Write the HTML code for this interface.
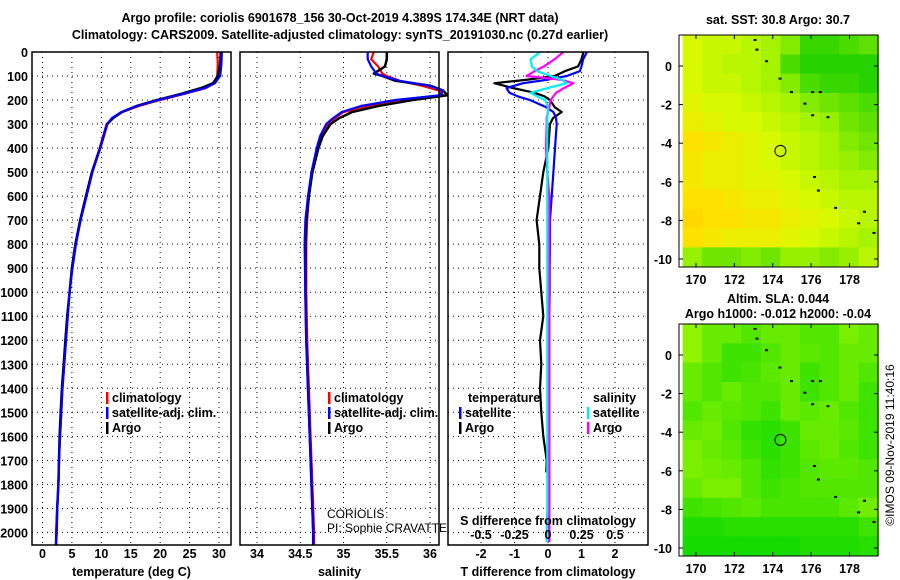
<!DOCTYPE html>
<html><head><meta charset="utf-8"><style>
body{margin:0;background:#fff}
svg{display:block;font-family:"Liberation Sans",sans-serif}
.b{font-weight:bold;font-size:12.5px}
.n{font-weight:normal;font-size:12px}
</style></head><body>
<svg id="s" width="900" height="580"></svg>
<script>
// ---- data ----
const depthT = [0,50,100,130,150,175,200,225,250,275,300,350,400,500,600,700,800,900,1000,1100,1200,1300,1400,1500,1600,1700,1800,1900,2000,2050];
const tempArgo = [30.3,30.2,29.8,29,27,23.5,19.5,16,13.5,12,11,10.4,9.8,8.4,7.4,6.4,5.6,5,4.6,4.2,3.9,3.6,3.3,3.1,2.9,2.8,2.7,2.5,2.4,2.3];
const tempClim = [29.7,29.8,29.7,29.2,27.8,24,20,16.4,13.6,12,10.9,10.3,9.7,8.4,7.4,6.4,5.6,5,4.6,4.3,4,3.7,3.4,3.2,3,2.8,2.7,2.5,2.3,2.3];
const tempSat = [30.5,30.4,30.2,29.3,27.6,23.8,19.6,16,13.4,11.8,11,10.4,9.8,8.5,7.5,6.5,5.7,5.1,4.6,4.3,4,3.7,3.4,3.2,3,2.8,2.7,2.5,2.4,2.3];
const depthS = [0,30,60,90,100,120,140,160,180,200,225,250,275,300,350,400,500,600,700,800,1000,1200,1400,1600,1800,2000,2050];
const salArgo = [35.5,35.5,35.48,35.35,35.45,35.6,36.0,36.15,36.2,35.8,35.4,35.1,34.95,34.85,34.76,34.71,34.64,34.6,34.57,34.56,34.56,34.57,34.59,34.61,34.63,34.65,34.65];
const salClim = [35.35,35.32,35.4,35.45,35.5,35.65,35.9,36.1,36.15,35.75,35.3,35.0,34.9,34.82,34.74,34.7,34.63,34.6,34.58,34.57,34.57,34.58,34.6,34.62,34.64,34.66,34.66];
const salSat = [35.28,35.28,35.32,35.38,35.45,35.65,35.98,36.15,36.12,35.6,35.2,34.98,34.88,34.8,34.73,34.69,34.63,34.59,34.56,34.55,34.56,34.57,34.59,34.61,34.63,34.65,34.65];
const depthD = [0,30,60,80,100,115,130,150,170,185,200,230,250,275,300,400,500,600,700,800,900,1000,1100,1200,1300,1400,1500,1600,1700,1750,1800,1900,2000,2040];
const dTArgo = [1.06,1.0,0.9,0.5,0.2,-0.6,-1.6,-1.05,-0.4,-0.1,0.06,0.2,0.41,0.15,0.06,0.01,-0.14,-0.24,-0.34,-0.26,-0.26,-0.2,-0.14,-0.24,-0.2,-0.24,-0.2,-0.14,-0.04,-0.05,null,null,null,null];
const dTSat = [1.16,1.05,1.0,0.95,0.56,0.0,-0.74,-1.24,-1.15,-0.9,-0.54,-0.05,0.16,0.24,0.26,0.21,0.16,0.11,0.06,0.06,0.05,0.05,0.04,0.04,0.04,0.04,0.04,0.04,0.04,0.04,0.04,0.04,0.04,0.04];
const dSArgo = [0.115,0.05,-0.03,-0.1,-0.16,0.09,0.19,0.12,0.06,0.04,0.02,0.01,0.0,-0.01,-0.01,-0.015,-0.005,0.01,0.01,0.01,0.01,0.01,0.01,0.01,0.01,0.01,0.01,0.01,0.01,0.01,0.01,0.01,0.01,0.01];
const dSSat = [-0.06,-0.13,-0.12,-0.08,0.02,0.1,0.14,0.0,-0.13,-0.08,-0.02,0.0,0.0,-0.005,-0.005,-0.005,-0.005,-0.005,-0.005,-0.005,-0.005,-0.005,-0.005,-0.005,-0.005,-0.005,-0.005,-0.005,-0.005,-0.005,-0.005,-0.005,-0.01,-0.01];
const depthTicks = [0,100,200,300,400,500,600,700,800,900,1000,1100,1200,1300,1400,1500,1600,1700,1800,1900,2000];
const tempTicks = [0,5,10,15,20,25,30];
const salTicks = [34,34.5,35,35.5,36];
const dTTicks = [-2,-1,0,1,2];
const dSTicks = [-0.5,-0.25,0,0.25,0.5];
const sstGrid = [
[.6,.55,.55,.5,.45,.35,.15,.15,.2,.25],
[.6,.55,.5,.5,.45,.2,.1,.1,.1,.1],
[.6,.55,.55,.5,.45,.35,.2,.15,.15,.1],
[.65,.6,.6,.55,.5,.45,.35,.3,.25,.2],
[.7,.65,.6,.6,.55,.5,.45,.4,.3,.25],
[.8,.75,.7,.65,.6,.55,.5,.45,.35,.3],
[.75,.7,.7,.65,.6,.55,.5,.45,.4,.35],
[.75,.7,.7,.65,.65,.6,.55,.5,.45,.45],
[.8,.8,.75,.7,.7,.65,.6,.55,.5,.5],
[.85,.8,.8,.75,.75,.7,.65,.6,.55,.5],
[.8,.75,.7,.7,.7,.65,.6,.55,.5,.45],
[.4,.3,.3,.35,.3,.4,.4,.35,.4,.5]];
const slaGrid = [
[.7,.5,.5,.4,.5,.5,.4,.4,.6,.5],
[.7,.5,.3,.3,.4,.5,.45,.4,.5,.5],
[.5,.4,.3,.35,.45,.5,.3,.4,.5,.4],
[.5,.4,.5,.4,.4,.5,.3,.4,.5,.3],
[.4,.5,.45,.4,.3,.5,.45,.5,.4,.3],
[.5,.55,.4,.25,.2,.3,.5,.5,.45,.3],
[.6,.5,.45,.3,.2,.3,.45,.5,.4,.3],
[.6,.55,.5,.4,.25,.3,.4,.45,.45,.4],
[.5,.6,.6,.4,.3,.35,.4,.4,.4,.4],
[.3,.35,.4,.45,.35,.35,.35,.35,.45,.55],
[.15,.15,.2,.2,.2,.2,.2,.2,.2,.3],
[.1,.1,.1,.1,.1,.1,.15,.15,.15,.2]];
const lonTicks = [170,172,174,176,178];
const latTicks = [0,-2,-4,-6,-8,-10];
const argoPos = [174.4,-4.4];

// ---- helpers ----
const S = document.getElementById('s');
const NS = 'http://www.w3.org/2000/svg';
function mk(tag, at, parent){const e=document.createElementNS(NS,tag);for(const k in at)e.setAttribute(k,at[k]);(parent||S).appendChild(e);return e;}
function txt(x,y,t,anchor,cls,extra){const e=mk('text',Object.assign({x:x,y:y,'text-anchor':anchor||'middle',class:cls||'b'},extra||{}));e.textContent=t;return e;}
const Y0=52, YB=545;
const yD = d => Y0 + d*0.2402;
function lin(d0,p0,d1,p1){return v=>p0+(v-d0)*(p1-p0)/(d1-d0);}

function panel(name,x0,x1,xs,ticks,fmt,xtitle){
  const g=mk('g',{});
  depthTicks.forEach(d=>{mk('line',{x1:x0,x2:x1,y1:yD(d),y2:yD(d),stroke:'#000','stroke-dasharray':'1,4','stroke-width':1},g);});
  ticks.forEach(t=>{const x=xs(t);mk('line',{x1:x,x2:x,y1:Y0,y2:YB,stroke:'#000','stroke-dasharray':'1,4','stroke-width':1},g);
    if(fmt){const l=txt(x,558,fmt(t));}});
  if(xtitle){const l=txt((x0+x1)/2,576,xtitle);}
  return g;
}
function line(g,xs,depths,vals,color,w,name){
  let d='';let pen=false;
  depths.forEach((dp,i)=>{const v=vals[i];if(v===null||v===undefined){pen=false;return;}d+=(pen?'L':'M')+xs(v).toFixed(1)+','+yD(dp).toFixed(1);pen=true;});
  const p=mk('path',{d:d,fill:'none',stroke:color,'stroke-width':w||2.2,'stroke-linejoin':'round'},g);
  
  
}
function frame(g,x0,x1){mk('rect',{x:x0,y:Y0,width:x1-x0,height:YB-Y0,fill:'none',stroke:'#000','stroke-width':1.5},g);}
function legend(x,y,items){items.forEach((it,i)=>{mk('rect',{x:x,y:y+i*15-10,width:2.5,height:12,fill:it[1]});
  const t=txt(x+6,y+i*15,it[0],'start');});}

// titles
let t=txt(340,22,'Argo profile: coriolis 6901678_156 30-Oct-2019 4.389S 174.34E (NRT data)','middle','b',{'font-size':'14'});

t=txt(340,39,'Climatology: CARS2009. Satellite-adjusted climatology: synTS_20191030.nc (0.27d earlier)','middle','b',{'font-size':'14'});

depthTicks.forEach(d=>{const l=txt(28,yD(d)+5,String(d),'end');});

// panel 1 temperature
const xT=lin(0,42.5,30,219);
let g=panel('temperature-panel',32,231,xT,tempTicks,String,'temperature (deg C)');
line(g,xT,depthT,tempClim,'#f00',2.2,'temp-climatology-line');
line(g,xT,depthT,tempArgo,'#000',2.5,'temp-argo-line');
line(g,xT,depthT,tempSat,'#00f',2.2,'temp-satellite-line');
frame(g,32,231);
legend(106,402,[['climatology','#f00'],['satellite-adj. clim.','#00f'],['Argo','#000']]);

// panel 2 salinity
const xS=lin(34,257,36,430);
g=panel('salinity-panel',240,439,xS,salTicks,String,'salinity');
line(g,xS,depthS,salClim,'#f00',2.2,'sal-climatology-line');
line(g,xS,depthS,salArgo,'#000',2.5,'sal-argo-line');
line(g,xS,depthS,salSat,'#00f',2.2,'sal-satellite-line');
frame(g,240,439);
legend(328,402,[['climatology','#f00'],['satellite-adj. clim.','#00f'],['Argo','#000']]);
t=txt(327,518,'CORIOLIS','start','n');

t=txt(327,532,'PI: Sophie CRAVATTE','start','n');


// panel 3 differences
const xDT=lin(0,548,1,581.5);
const xDS=lin(0,548,0.25,581.5);
g=panel('difference-panel',448,648,xDT,dTTicks,String,'T difference from climatology');
line(g,xDT,depthD,dTArgo,'#000',2.2,'tdiff-argo-line');
line(g,xDT,depthD,dTSat,'#00f',2.2,'tdiff-satellite-line');
line(g,xDS,depthD,dSArgo,'#f0f',2.2,'sdiff-argo-line');
line(g,xDS,depthD,dSSat,'#0ee',2.2,'sdiff-satellite-line');
frame(g,448,648);
txt(468,402,'temperature','start');
legend(459,417,[['satellite','#00f'],['Argo','#000']]);
txt(593,402,'salinity','start');
legend(587,417,[['satellite','#0ee'],['Argo','#f0f']]);
txt(548,525,'S difference from climatology');
dSTicks.forEach(v=>{const l=txt(xDS(v),539,String(v));});

// maps
function colSST(v){const st=[[0,[0,200,0]],[0.4,[150,240,0]],[0.6,[215,250,0]],[0.8,[255,225,0]],[1,[255,190,0]]];
  for(let i=1;i<st.length;i++)if(v<=st[i][0]){const a=st[i-1],b=st[i],f=(v-a[0])/(b[0]-a[0]);return 'rgb('+a[1].map((c,j)=>Math.round(c+(b[1][j]-c)*f)).join(',')+')';}return 'rgb(255,190,0)';}
function colSLA(v){const a=[0,215,0],b=[205,255,0];return 'rgb('+a.map((c,j)=>Math.round(c+(b[j]-c)*v)).join(',')+')';}
function map(name,top,grid,col,title1,title2){
  const g=mk('g',{});
  const X0=679,X1=878,Y1=top+232;
  const xl=lin(170,696,178,849.5), yl=lin(0,top+31,-10,top+224);
  const lon0=169.3,lat0=1.6,dl=(179.5-169.3)/10,dt=1.0;
  grid.forEach((row,r)=>row.forEach((v,c)=>{
    const x=xl(lon0+c*dl),y=yl(lat0-r*dt);
    const cell=mk('rect',{x:x.toFixed(1),y:y.toFixed(1),width:(xl(lon0+(c+1)*dl)-x+0.5).toFixed(1),height:(yl(lat0-(r+1)*dt)-y+0.5).toFixed(1),fill:col(v)},g);
    
    
  }));
  [[173,1.4],[173.1,0.9],[173.6,0.3],[174.3,-0.6],[174.9,-1.3],[176,-1.3],[176.4,-1.3],[175.6,-1.9],[176,-2.5],[176.8,-2.6],[176.1,-5.7],[176.3,-6.4],[177.2,-7.3],[178.7,-7.5],[178.4,-8.1],[179.2,-8.6]].forEach(p=>mk('rect',{x:xl(p[0]),y:yl(p[1]),width:3,height:2,fill:'#000'},g));
  const c=mk('circle',{cx:xl(argoPos[0]),cy:yl(argoPos[1]),r:5.5,fill:'none',stroke:'#000','stroke-width':1},g);
  
  mk('rect',{x:X0,y:top,width:X1-X0,height:Y1-top,fill:'none',stroke:'#000','stroke-width':1},g);
  lonTicks.forEach(l=>{const x=xl(l);mk('line',{x1:x,x2:x,y1:top,y2:top+4,stroke:'#000'},g);mk('line',{x1:x,x2:x,y1:Y1,y2:Y1-4,stroke:'#000'},g);txt(x,Y1+17,String(l));});
  latTicks.forEach(l=>{const y=yl(l);mk('line',{x1:X1,x2:X1-4,y1:y,y2:y,stroke:'#000'},g);mk('line',{x1:X0,x2:X0+4,y1:y,y2:y,stroke:'#000'},g);txt(672,y+5,String(l),'end');});
  txt(778,title2?top-21:top-11,title1);
  if(title2)txt(778,top-6,title2);
}
map('sst-map',35,sstGrid,colSST,'sat. SST: 30.8 Argo: 30.7');
map('sla-map',324,slaGrid,colSLA,'Altim. SLA: 0.044','Argo h1000: -0.012 h2000: -0.04');
t=txt(0,0,'©IMOS 09-Nov-2019 11:40:16','middle','n',{'font-size':'13',transform:'translate(894,445) rotate(-90)'});

</script>
</body></html>
